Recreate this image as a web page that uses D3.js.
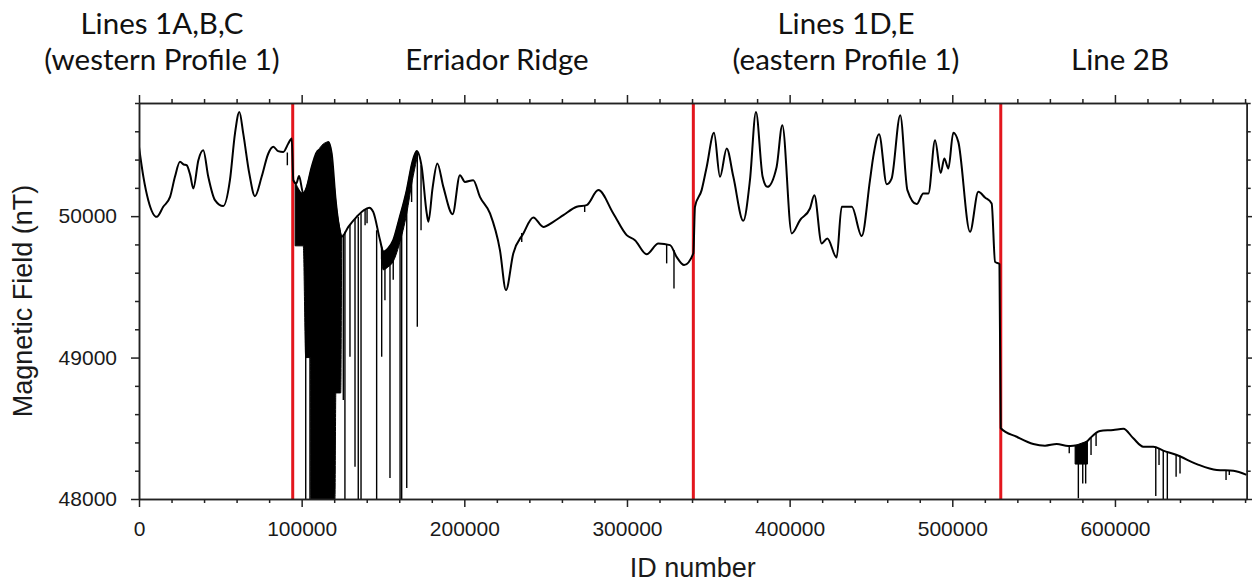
<!DOCTYPE html>
<html>
<head>
<meta charset="utf-8">
<script src="https://cdn.jsdelivr.net/npm/d3@7/dist/d3.min.js"></script>
<style>
  body { margin: 0; background: #fff; }
  text { font-family: "Liberation Sans", Arial, sans-serif; }
</style>
</head>
<body>
<script>
// survey track, ID number vs total field (nT)
var traceId = [
  0, 2700, 5700, 10900, 14900, 19100, 22100, 25200, 27500, 29300, 31500, 33400, 36500, 39500,
  42600, 46700, 51800, 55900, 59000, 61700, 64100, 67800, 71300, 75400, 79500, 82600, 85500,
  88700, 91800, 93900, 94900,
  96700, 98400, 101000, 103000, 106000, 110200, 113000, 116400, 118500, 120900, 122500, 124600,
  128700, 133800, 138000, 141600, 144000, 148200, 150200, 153000, 156300, 160000, 164600, 168000,
  170700, 173800, 176900, 177900, 180500, 183400, 187100, 192800, 197300, 200400, 205500, 209600,
  215800, 221900, 225600, 230100, 236300, 242400, 248600, 254700, 260900, 269100, 275200, 282400,
  291600, 299800, 304900, 312100, 319300, 326500, 330500, 335100, 340800,
  341800, 345900, 349000, 353500, 357200, 361300, 365400, 371500, 375600, 379300, 383400, 386300,
  392000, 395500, 401300, 406400, 412500, 415200, 419700, 423200, 428900, 432000, 438200, 444300,
  449400, 451400, 455000, 459700, 462700, 468000, 472400, 478100, 482200, 485300, 489400, 492900,
  495100, 497600, 500600, 503700, 510900, 516000, 520100, 524200, 526300, 529000,
  529800, 539600, 549800, 557000, 564200, 571300, 575500, 579600, 583100, 584700, 590800, 599000,
  605200, 611300, 617400, 623600, 629700, 638000, 650300, 662600, 672800, 681000
];
var traceNT = [
  50490, 50278, 50113, 49995, 50066, 50136, 50278, 50384, 50365, 50360, 50290, 50196, 50396, 50466,
  50278, 50113, 50071, 50254, 50584, 50737, 50584, 50302, 50141, 50278, 50443, 50490, 50460,
  50454, 50514, 50549, 50254,
  50231, 50283, 50160, 50200, 50340, 50466, 50443, 50525, 50440, 50113, 49960, 49854,
  49924, 49995, 50040, 50059, 50030, 49830, 49748, 49770, 49830, 49980, 50184, 50380,
  50461, 50348, 50019, 49960, 50200, 50372, 50207, 50014, 50290, 50242, 50254, 50136,
  50019, 49760, 49477, 49736, 49878, 49991, 49924, 49960, 50007, 50066, 50078, 50184,
  50019, 49866, 49830, 49731, 49807, 49795, 49712, 49654, 49736,
  50066, 50184, 50348, 50589, 50278, 50478, 50278, 49967, 50254, 50737, 50278, 50207,
  50348, 50643, 49878, 49972, 50054, 50148, 49807, 49842, 49708, 50066, 50066, 49859,
  50254, 50419, 50579, 50226, 50266, 50714, 50184, 50085, 50160, 50160, 50537, 50306,
  50408, 50337, 50589, 50525, 49889, 50172, 50132, 50090, 49677, 49661,
  48500, 48440, 48389, 48377, 48389, 48375, 48378, 48382, 48410, 48429, 48481, 48488,
  48497, 48429, 48370, 48370, 48342, 48311, 48247, 48205, 48200, 48170
];

// noisy stretches drawn as filled bands (upper = trace, lower = reach of the noise)
var bandNo   = [1, 1, 1, 1, 1, 1, 1, 1, 1, 1, 1,   2, 2, 2, 2, 2, 2, 2, 2,   3, 3];
var bandId   = [96000, 101000, 102500, 105500, 105700, 110200, 116400, 120500, 121000, 124000, 124600,
                149000, 150200, 153000, 156300, 160000, 164600, 168000, 170700,
                575500, 583100];
var bandHigh = [50240, 50160, 50190, 50317, 50326, 50466, 50525, 50168, 50105, 49884, 49854,
                49797, 49748, 49770, 49830, 49980, 50184, 50380, 50461,
                48378, 48410];
var bandLow  = [49790, 49790, 49000, 49000, 48000, 48000, 48000, 48000, 48750, 48750, 49854,
                49700, 49620, 49640, 49680, 49800, 50020, 50250, 50400,
                48247, 48247];

// single spikes: id, top, bottom
var spikeId  = [91200, 102500, 105100, 125600, 126600, 129700, 132800, 134800, 136500, 139000, 140200,
                146100, 149200, 151200, 154300, 156300, 160500, 161500, 164600, 167600, 171100, 173400,
                235300, 274000, 324400, 328900,
                571900, 577500, 580200, 582000, 585300, 588400, 625100, 627100, 629700, 632200,
                637600, 640000, 668300, 670300];
var spikeTop = [50450, 50190, 50290, 49870, 49890, 49940, 49980, 49995, 50020, 50050, 50055,
                49900, 49780, 49750, 49790, 49830, 49990, 50030, 50184, 50350, 50450, 50360,
                49880, 50075, 49800, 49760,
                48376, 48380, 48385, 48400, 48435, 48460, 48365, 48360, 48342, 48335,
                48312, 48305, 48205, 48202];
var spikeLow = [50360, 48000, 48000, 48700, 48000, 49006, 48228, 48000, 48000, 49936, 49950,
                48000, 49006, 49406, 48148, 49550, 48000, 48000, 48078, 50100, 49218, 49900,
                49818, 50030, 49666, 49489,
                48323, 48005, 48110, 48110, 48311, 48375, 48021, 48240, 48000, 48000,
                48158, 48181, 48134, 48170];

var sectionBreaks = [94500, 340800, 529800];
var sectionLabels = [
  {lines: ["Lines 1A,B,C", "(western Profile 1)"], cx: 162},
  {lines: ["", "Erriador Ridge"], cx: 497},
  {lines: ["Lines 1D,E", "(eastern Profile 1)"], cx: 846},
  {lines: ["", "Line 2B"], cx: 1120}
];

var xMajor = [0, 100000, 200000, 300000, 400000, 500000, 600000];
var yMajor = [48000, 49000, 50000];

var svgWidth = 1252, svgHeight = 584;
var plotL = 139, plotR = 1246.7, plotT = 103, plotB = 499;

var x = d3.scaleLinear().domain([0, 681000]).range([plotL, plotR]);
var y = d3.scaleLinear().domain([48000, 50800]).range([plotB, plotT]);

var svg = d3.select('body').append('svg')
  .attr('width', svgWidth)
  .attr('height', svgHeight);

svg.append('clipPath').attr('id', 'plotclip')
  .append('rect')
  .attr('x', plotL).attr('y', plotT)
  .attr('width', plotR - plotL).attr('height', plotB - plotT);

var plot = svg.append('g').attr('clip-path', 'url(#plotclip)');

// red section boundaries
plot.selectAll('line.brk')
  .data(sectionBreaks)
  .enter()
  .append('line')
  .attr('class', 'brk')
  .attr('x1', function(d) { return x(d); })
  .attr('x2', function(d) { return x(d); })
  .attr('y1', y(48000))
  .attr('y2', y(50800))
  .attr('stroke', '#e3161d')
  .attr('stroke-width', 3);

// noise bands
var bands = d3.groups(bandId.map(function(d, i) {
  return {no: bandNo[i], id: d, hi: bandHigh[i], lo: bandLow[i]};
}), function(d) { return d.no; });

var area = d3.area()
  .x(function(d) { return x(d.id); })
  .y0(function(d) { return y(d.lo); })
  .y1(function(d) { return y(d.hi); })
  .curve(d3.curveMonotoneX);

plot.selectAll('path.band')
  .data(bands)
  .enter()
  .append('path')
  .attr('class', 'band')
  .attr('d', function(d) { return area(d[1]); })
  .attr('fill', '#000')
  .attr('stroke', '#000')
  .attr('stroke-width', 1);

// spikes
plot.selectAll('line.spike')
  .data(spikeId)
  .enter()
  .append('line')
  .attr('class', 'spike')
  .attr('x1', function(d) { return x(d); })
  .attr('x2', function(d) { return x(d); })
  .attr('y1', function(d, i) { return y(spikeTop[i]); })
  .attr('y2', function(d, i) { return y(spikeLow[i]); })
  .attr('stroke', '#000')
  .attr('stroke-width', 1.4);

// main trace
var line = d3.line()
  .x(function(d) { return x(d); })
  .y(function(d, i) { return y(traceNT[i]); })
  .curve(d3.curveMonotoneX);

plot.append('path')
  .attr('d', line(traceId))
  .attr('fill', 'none')
  .attr('stroke', '#000')
  .attr('stroke-width', 2)
  .attr('stroke-linejoin', 'round');

// axes, major + minor ticks on all four sides
var xMinor = d3.range(20000, 681000, 20000).filter(function(d) { return d % 100000 !== 0; });
var yMinor = d3.range(48200, 50801, 200).filter(function(d) { return d % 1000 !== 0; });

function styleAxis(g) {
  g.selectAll('path.domain').attr('stroke', '#222').attr('stroke-width', 1.5);
  g.selectAll('.tick line').attr('stroke', '#222').attr('stroke-width', 1.5);
  g.selectAll('.tick text')
    .attr('fill', '#1a1a1a')
    .style('font-family', '"Liberation Sans", Arial, sans-serif')
    .style('font-size', '21px');
}

svg.append('g').attr('transform', 'translate(0,' + plotB + ')')
  .call(d3.axisBottom(x).tickValues(xMajor).tickSize(8).tickSizeOuter(0).tickPadding(14).tickFormat(d3.format('d')))
  .call(styleAxis);
svg.append('g').attr('transform', 'translate(0,' + plotB + ')')
  .call(d3.axisBottom(x).tickValues(xMinor).tickSize(4).tickSizeOuter(0).tickFormat(''))
  .call(styleAxis);

svg.append('g').attr('transform', 'translate(0,' + plotT + ')')
  .call(d3.axisTop(x).tickValues(xMajor).tickSize(8).tickSizeOuter(0).tickFormat(''))
  .call(styleAxis);
svg.append('g').attr('transform', 'translate(0,' + plotT + ')')
  .call(d3.axisTop(x).tickValues(xMinor).tickSize(4).tickSizeOuter(0).tickFormat(''))
  .call(styleAxis);

svg.append('g').attr('transform', 'translate(' + plotL + ',0)')
  .call(d3.axisLeft(y).tickValues(yMajor).tickSize(8).tickSizeOuter(0).tickPadding(14).tickFormat(d3.format('d')))
  .call(styleAxis);
svg.append('g').attr('transform', 'translate(' + plotL + ',0)')
  .call(d3.axisLeft(y).tickValues(yMinor).tickSize(4).tickSizeOuter(0).tickFormat(''))
  .call(styleAxis);

svg.append('g').attr('transform', 'translate(' + plotR + ',0)')
  .call(d3.axisRight(y).tickValues(yMajor).tickSize(8).tickSizeOuter(0).tickFormat(''))
  .call(styleAxis);
svg.append('g').attr('transform', 'translate(' + plotR + ',0)')
  .call(d3.axisRight(y).tickValues(yMinor).tickSize(4).tickSizeOuter(0).tickFormat(''))
  .call(styleAxis);

// axis titles
svg.append('text')
  .attr('x', (plotL + plotR) / 2)
  .attr('y', 577)
  .attr('text-anchor', 'middle')
  .style('font-size', '27px')
  .attr('fill', '#1a1a1a')
  .text('ID number');

svg.append('text')
  .attr('transform', 'translate(32,' + ((plotT + plotB) / 2) + ') rotate(-90)')
  .attr('text-anchor', 'middle')
  .style('font-size', '27px')
  .attr('fill', '#1a1a1a')
  .text('Magnetic Field (nT)');

// section headings
var heads = svg.selectAll('g.head')
  .data(sectionLabels)
  .enter()
  .append('g')
  .attr('class', 'head');

heads.selectAll('text')
  .data(function(d) { return d.lines.map(function(t) { return {t: t, cx: d.cx}; }); })
  .enter()
  .append('text')
  .attr('x', function(d) { return d.cx; })
  .attr('y', function(d, i) { return i === 0 ? 34 : 70; })
  .attr('text-anchor', 'middle')
  .style('font-family', 'Lato, "Open Sans", sans-serif')
  .style('font-size', '29.5px')
  .attr('fill', '#111')
  .text(function(d) { return d.t; });
</script>
</body>
</html>
